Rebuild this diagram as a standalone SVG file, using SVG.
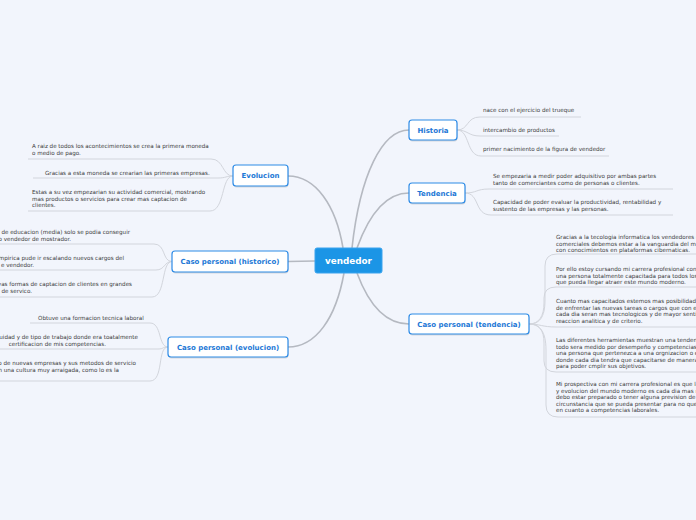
<svg xmlns="http://www.w3.org/2000/svg" width="696" height="520" viewBox="0 0 696 520">
<style>
.bg{fill:#f2f5fc}
.main{fill:none;stroke:#b5b9c1;stroke-width:1.6}
.leaf{fill:none;stroke:#d2d5dc;stroke-width:1}
.box{fill:#ffffff;stroke:#2d8be6;stroke-width:1.2}
.sh{fill:#000;opacity:0.12}
.nt{font-family:"DejaVu Sans",Verdana,sans-serif;font-weight:bold;font-size:7px;fill:#1d78d6;text-anchor:middle}
.ct{font-family:"DejaVu Sans",Verdana,sans-serif;font-weight:bold;font-size:8.8px;fill:#ffffff;text-anchor:middle}
.lt{font-family:"DejaVu Sans",Verdana,sans-serif;font-size:5.6px;fill:#3a3a3a}
.le{font-family:"DejaVu Sans",Verdana,sans-serif;font-size:5.6px;fill:#3a3a3a;text-anchor:end}
</style>
<rect class="bg" x="0" y="0" width="696" height="520"/>
<g id="connectors">
<path class="main" d="M343,248 C336,206 316,176 288,176"/>
<path class="main" d="M352,248 C360,175 382,130 409,130"/>
<path class="main" d="M357,248 C370,212 388,193 409,193"/>
<path class="main" d="M288,261.5 L315,261"/>
<path class="main" d="M344,273 C336,318 316,347 288,347"/>
<path class="main" d="M357,273 C370,308 388,324 409,324"/>
<path class="leaf" d="M457,130 C469,130 466,117 480,117 L581,117"/>
<path class="leaf" d="M457,130 C468,130 468,136 480,136 L559,136"/>
<path class="leaf" d="M457,130 C470,130 466,156 481,156 L609,156"/>
<path class="leaf" d="M465,193 C477,193 476,189 489,189 L673,189"/>
<path class="leaf" d="M465,193 C480,193 474,215 491,215 L673,215"/>
<path class="leaf" d="M529,324 C539,324 545,318 545,300 L545,266 Q545,254 557,254 L700,254"/>
<path class="leaf" d="M529,324 C539,324 544,316 544,303 L544,298 Q544,287 556,287 L700,287"/>
<path class="leaf" d="M529,324 C540,324 542,327 556,327 L700,327"/>
<path class="leaf" d="M529,324 C539,324 544,330 544,343 L544,361 Q544,372 556,372 L700,372"/>
<path class="leaf" d="M529,324 C540,324 546,332 546,350 L546,405 Q546,417 558,417 L700,417"/>
<path class="leaf" d="M233,176 C222,176 224,159 211,159 L28,159"/>
<path class="leaf" d="M233,176 C226,176 226,178 218,178 L33,178"/>
<path class="leaf" d="M233,176 C221,176 225,211 210,211 L28,211"/>
<path class="leaf" d="M172,261.5 C162,261.5 166,244 154,244 L0,244"/>
<path class="leaf" d="M172,261.5 C164,261.5 165,270 156,270 L0,270"/>
<path class="leaf" d="M172,261.5 C161,261.5 166,297 152,297 L0,297"/>
<path class="leaf" d="M168,347 C158,347 162,323 150,323 L30,323"/>
<path class="leaf" d="M168,347 C162,347 164,349 158,349 L0,349"/>
<path class="leaf" d="M168,347 C157,347 164,381 150,381 L0,381"/>
</g>
<g id="vendedor">
<rect x="315" y="248" width="67" height="25" rx="2" fill="#1b95e6" stroke="#3aa3ee" stroke-width="1"/>
<text class="ct" x="348.5" y="264">vendedor</text>
</g>
<g id="historia">
<rect class="sh" x="409.5" y="121.5" width="48" height="20" rx="3"/>
<rect class="box" x="409" y="120" width="48" height="20" rx="3"/>
<text class="nt" x="433" y="132.5">Historia</text>
</g>
<g id="tendencia">
<rect class="sh" x="409.5" y="184.5" width="56" height="20" rx="3"/>
<rect class="box" x="409" y="183" width="56" height="20" rx="3"/>
<text class="nt" x="437" y="195.5">Tendencia</text>
</g>
<g id="caso-tendencia">
<rect class="sh" x="409.5" y="315.5" width="120" height="20" rx="3"/>
<rect class="box" x="409" y="314" width="120" height="20" rx="3"/>
<text class="nt" x="469" y="326.5">Caso personal (tendencia)</text>
</g>
<g id="evolucion">
<rect class="sh" x="233.5" y="166.5" width="55" height="21" rx="3"/>
<rect class="box" x="233" y="165" width="55" height="21" rx="3"/>
<text class="nt" x="260.5" y="178">Evolucion</text>
</g>
<g id="caso-historico">
<rect class="sh" x="172.5" y="252.5" width="116" height="21" rx="3"/>
<rect class="box" x="172" y="251" width="116" height="21" rx="3"/>
<text class="nt" x="230" y="264">Caso personal (historico)</text>
</g>
<g id="caso-evolucion">
<rect class="sh" x="168.5" y="338.5" width="120" height="20" rx="3"/>
<rect class="box" x="168" y="337" width="120" height="20" rx="3"/>
<text class="nt" x="228" y="349.5">Caso personal (evolucion)</text>
</g>
<g id="historia-leaves">
<text class="lt" x="483" y="112">nace con el ejercicio del trueque</text>
<text class="lt" x="483" y="132">intercambio de productos</text>
<text class="lt" x="483" y="151">primer nacimiento de la figura de vendedor</text>
</g>
<g id="tendencia-leaves">
<text class="lt" x="493" y="178">Se empezaria a medir poder adquisitivo por ambas partes</text>
<text class="lt" x="493" y="185">tanto de comerciantes como de personas o clientes.</text>
<text class="lt" x="493" y="204">Capacidad de poder evaluar la productividad, rentabilidad y</text>
<text class="lt" x="493" y="211">sustento de las empresas y las personas.</text>
</g>
<g id="caso-tendencia-leaves">
<text class="lt" x="556" y="239">Gracias a la tecologia informatica los vendedores o</text>
<text class="lt" x="556" y="245.5">comerciales debemos estar a la vanguardia del mundo</text>
<text class="lt" x="556" y="252">con conocimientos en plataformas cibernaticas.</text>
<text class="lt" x="556" y="271">Por ello estoy cursando mi carrera profesional con</text>
<text class="lt" x="556" y="277.5">una persona totalmente capacitada para todos los</text>
<text class="lt" x="556" y="284">que pueda llegar atraer este mundo moderno.</text>
<text class="lt" x="556" y="303">Cuanto mas capacitados estemos mas posibilidades</text>
<text class="lt" x="556" y="309.5">de enfrentar las nuevas tareas o cargos que con el</text>
<text class="lt" x="556" y="316">cada dia seran mas tecnologicos y de mayor sentido</text>
<text class="lt" x="556" y="322.5">reaccion analitica y de criterio.</text>
<text class="lt" x="556" y="342">Las diferentes herramientas muestran una tendencia</text>
<text class="lt" x="556" y="348.5">todo sera medido por desempeño y competencias</text>
<text class="lt" x="556" y="355">una persona que pertenezca a una orgnizacion o e</text>
<text class="lt" x="556" y="361.5">donde cada dia tendra que capacitarse de manera</text>
<text class="lt" x="556" y="368">para poder cmplir sus objetivos.</text>
<text class="lt" x="556" y="386">Mi prospectiva con mi carrera profesional es que la</text>
<text class="lt" x="556" y="392.5">y evolucion del mundo moderno es cada dia mas r</text>
<text class="lt" x="556" y="399">debo estar preparado o tener alguna prevision de</text>
<text class="lt" x="556" y="405.5">circunstancia que se pueda presentar para no que</text>
<text class="lt" x="556" y="412">en cuanto a competencias laborales.</text>
</g>
<g id="evolucion-leaves">
<text class="lt" x="32" y="148">A raiz de todos los acontecimientos se crea la primera moneda</text>
<text class="lt" x="32" y="155">o medio de pago.</text>
<text class="lt" x="45" y="175">Gracias a esta moneda se crearian las primeras empresas.</text>
<text class="lt" x="32" y="194">Estas a su vez empezarian su actividad comercial, mostrando</text>
<text class="lt" x="32" y="200.5">mas productos o servicios para crear mas captacion de</text>
<text class="lt" x="32" y="207">clientes.</text>
</g>
<g id="caso-historico-leaves">
<text class="le" x="130" y="234">l de educacion (media) solo se podia conseguir</text>
<text class="le" x="71" y="240.5">o vendedor de mostrador.</text>
<text class="le" x="124" y="260">empirica pude ir escalando nuevos cargos del</text>
<text class="le" x="34" y="266.5">e vendedor.</text>
<text class="le" x="132" y="286">evas formas de captacion de clientes en grandes</text>
<text class="le" x="32" y="293">de servico.</text>
</g>
<g id="caso-evolucion-leaves">
<text class="lt" x="38" y="320">Obtuve una formacion tecnica laboral</text>
<text class="le" x="138" y="339">uidad y de tipo de trabajo donde era toatalmente</text>
<text class="le" x="106" y="345.5">certificacion de mis competencias.</text>
<text class="le" x="136" y="365">o de nuevas empresas y sus metodos de servicio</text>
<text class="le" x="119" y="371.5">n una cultura muy arraigada, como lo es la</text>
</g>
</svg>
